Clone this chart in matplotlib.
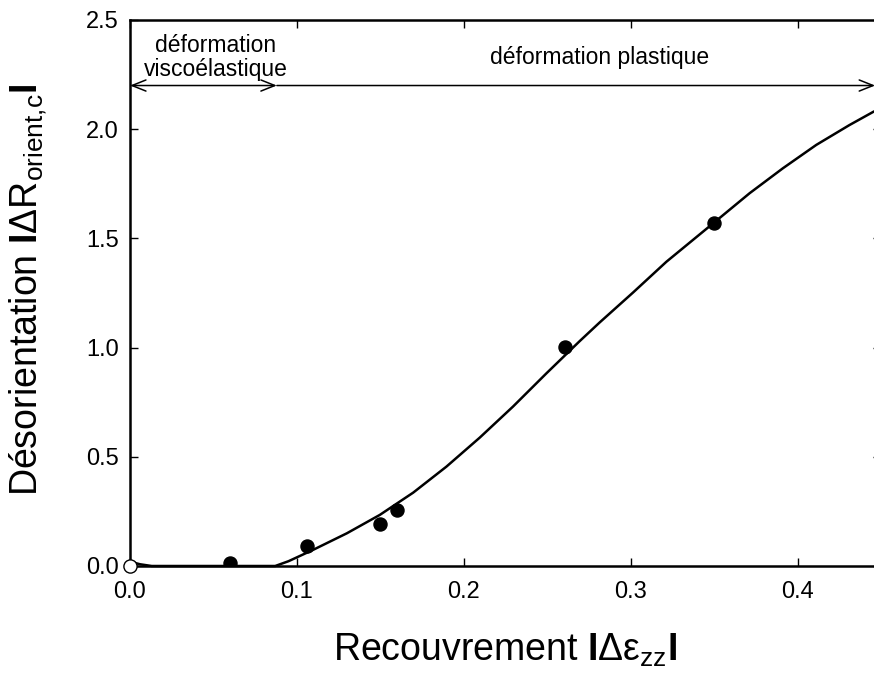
import matplotlib
matplotlib.use("Agg")
import matplotlib.pyplot as plt

plt.rcParams['font.family'] = ['Liberation Sans', 'DejaVu Sans']
plt.rcParams['mathtext.fontset'] = 'custom'
plt.rcParams['mathtext.rm'] = 'Liberation Sans'
plt.rcParams['mathtext.it'] = 'Liberation Sans:italic'
plt.rcParams['mathtext.bf'] = 'Liberation Sans:bold'

# measured points
x_points = [0.06, 0.106, 0.150, 0.160, 0.2605, 0.350]
y_points = [0.015, 0.093, 0.194, 0.255, 1.005, 1.572]
x_open = [0.0]
y_open = [0.0]

# fitted curve
x_curve = [0.0, 0.006, 0.013, 0.087, 0.095, 0.110, 0.130, 0.1497, 0.1697, 0.1896,
           0.2096, 0.2295, 0.2495, 0.2695, 0.2814, 0.3014, 0.3214, 0.3499, 0.3713,
           0.3912, 0.4112, 0.4311, 0.4455, 0.450]
y_curve = [0.020, 0.008, 0.0, 0.0, 0.022, 0.075, 0.150, 0.234, 0.336, 0.455,
           0.588, 0.730, 0.882, 1.030, 1.115, 1.252, 1.393, 1.572, 1.707,
           1.821, 1.928, 2.019, 2.080, 2.095]

x_ticks = [0.0, 0.1, 0.2, 0.3, 0.4]
y_ticks = [0.0, 0.5, 1.0, 1.5, 2.0, 2.5]

fig = plt.figure(figsize=(8.74, 6.81), dpi=100)
ax = fig.add_axes([130/874, (681-566)/681, 751/874, 546/681])

ax.plot(x_curve, y_curve, color='black', lw=1.8, clip_on=False, zorder=3,
        solid_joinstyle='round')
ax.plot(x_points, y_points, 'o', color='black', ms=9.4, zorder=4)
ax.plot(x_open, y_open, 'o', mfc='white', mec='black', mew=1.0, ms=9.5,
        clip_on=False, zorder=5)

ax.set_xlim(0, 0.45)
ax.set_ylim(0, 2.5)
ax.set_xticks(x_ticks)
ax.set_yticks(y_ticks)
ax.set_xticklabels([f"{v:.1f}" for v in x_ticks])
ax.set_yticklabels([f"{v:.1f}" for v in y_ticks])
ax.tick_params(direction='in', length=6, width=1.0, labelsize=17,
               top=True, right=True)
ax.tick_params(axis='x', pad=11)
ax.tick_params(axis='y', pad=8)
for s in ax.spines.values():
    s.set_linewidth(1.8)

# arrows
ax.annotate('', xy=(0.0, 2.2), xytext=(0.088, 2.2),
            arrowprops=dict(arrowstyle='<->,head_length=1.0,head_width=0.4',
                            lw=1.1, color='black', shrinkA=0, shrinkB=0))
ax.annotate('', xy=(0.4465, 2.2), xytext=(0.088, 2.2),
            arrowprops=dict(arrowstyle='->,head_length=1.0,head_width=0.4',
                            lw=1.1, color='black', shrinkA=0, shrinkB=0))
ax.text(0.0515, 2.33, 'déformation\nviscoélastique', ha='center', va='center',
        fontsize=16.5, linespacing=1.05)
ax.text(0.2815, 2.33, 'déformation plastique', ha='center', va='center',
        fontsize=16.5)

ax.set_xlabel(r'Recouvrement $\mathbf{I}\Delta\mathrm{ε}_{\mathrm{zz}}\mathbf{I}$',
              fontsize=27)
ax.set_ylabel(r'Désorientation $\mathbf{I}\Delta\mathrm{R}_{\mathrm{orient{,}c}}\mathbf{I}$',
              fontsize=27)
ax.xaxis.set_label_coords(0.5, -0.12)
ax.yaxis.set_label_coords(-0.108, 0.505)

fig.savefig('out.png', dpi=100)
